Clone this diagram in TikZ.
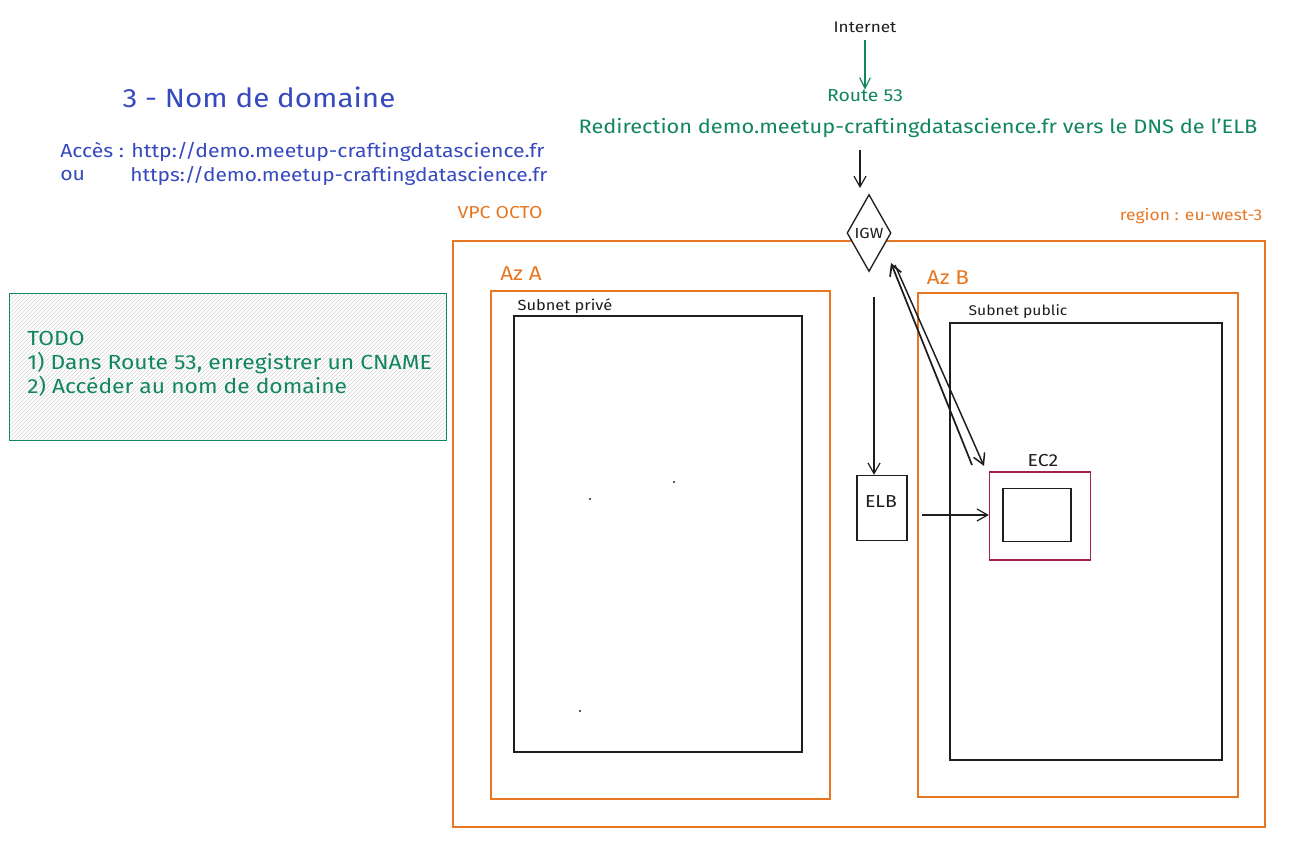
\documentclass[tikz,border=0pt]{standalone}
\usepackage{fontspec}
\setmainfont[FakeStretch=1.12]{Fira Sans}
\usetikzlibrary{shapes.geometric,patterns,arrows.meta}
\definecolor{cOrange}{RGB}{232,119,34}
\definecolor{cGreen}{RGB}{18,134,94}
\definecolor{cBlue}{RGB}{54,74,190}
\definecolor{cMag}{RGB}{166,30,77}
\definecolor{cInk}{RGB}{30,30,30}
\newcommand{\fs}[1]{\fontsize{#1}{#1}\selectfont}
\tikzset{
  orangebox/.style={draw=cOrange, line width=1.2pt},
  inkbox/.style={draw=cInk, line width=1pt},
  ink/.style={text=cInk, inner sep=0pt},
  otext/.style={text=cOrange, inner sep=0pt},
  gtext/.style={text=cGreen, inner sep=0pt},
  btext/.style={text=cBlue, inner sep=0pt},
  arr/.style={draw=cInk, line width=0.9pt, -{Straight Barb[length=8pt,width=9pt]}},
  garr/.style={draw=cGreen, line width=0.9pt, -{Straight Barb[length=8pt,width=8pt]}},
}
\begin{document}
\begin{tikzpicture}[x=0.75pt,y=-0.75pt]
\path[use as bounding box, fill=white] (0,0) rectangle (1301,863);

% Title and access
\node[btext] (title) at (259,97) {\fs{19.8}3 - Nom de domaine};
\node[btext, anchor=west] (acc1) at (60,152) {\fs{14.2}Accès : http://demo.meetup-craftingdatascience.fr};
\node[btext, anchor=west] (acc2a) at (60,176) {\fs{14.2}ou};
\node[btext, anchor=west] (acc2) at (130,176) {\fs{14}https://demo.meetup-craftingdatascience.fr};

% TODO box
\node[draw=cGreen, line width=1pt, pattern=north east lines, pattern color=black!16, minimum width=437*0.75pt, minimum height=147*0.75pt, anchor=north west, inner sep=0pt] (todo) at (9,293) {};
\node[gtext, anchor=west, align=left, font=\fontsize{15.3}{18}\selectfont] (todotxt) at (27,364) {TODO\\1) Dans Route 53, enregistrer un CNAME\\2) Accéder au nom de domaine};

% Top flow
\node[ink] (internet) at (865,27) {\fs{11.5}Internet};
\node[gtext] (r53) at (865,96) {\fs{13}Route 53};
\node[gtext] (redir) at (918,128) {\fs{14.6}Redirection demo.meetup-craftingdatascience.fr vers le DNS de l'ELB};
\draw[garr] (865,40) -- (r53.north);
\coordinate (rb) at (860,150);

% VPC
\draw[orangebox] (453,241) rectangle (1265,827);
\node[otext] (vpc) at (500,213) {\fs{13}VPC OCTO};
\node[otext] (region) at (1191,216) {\fs{11.7}region : eu-west-3};

% IGW diamond
\node[draw=cInk, line width=1pt, fill=white, diamond, aspect=0.57, minimum width=44*0.75pt, minimum height=77*0.75pt, inner sep=0pt] (igw) at (869,233) {};
\node[ink] at (869,233) {\fs{11}IGW};
\draw[arr] (rb) -- (860,188);

% Az A
\node[otext] (aza) at (521,274) {\fs{15}Az A};
\draw[orangebox] (491,291) rectangle (830,799);
\node[ink] (subpriv) at (565,306) {\fs{11}Subnet privé};
\draw[inkbox] (514,316) rectangle (802,752);
\fill[cInk] (590,499) circle (1.2);
\fill[cInk] (674,482) circle (1.2);
\fill[cInk] (580,711) circle (1.2);

% Az B
\node[otext] (azb) at (948,278) {\fs{15}Az B};
\draw[orangebox] (918,293) rectangle (1238,797);
\node[ink] (subpub) at (1018,312) {\fs{10.5}Subnet public};
\draw[inkbox] (950,323) rectangle (1222,760);

% ELB
\node[inkbox, minimum width=50*0.75pt, minimum height=65*0.75pt, inner sep=0pt] (elb) at (882,508) {};
\node[ink] at (881,502) {\fs{13}ELB};

% EC2
\node[ink] (ec2lbl) at (1043,461) {\fs{13}EC2};
\node[draw=cMag, line width=1pt, minimum width=101*0.75pt, minimum height=88*0.75pt, inner sep=0pt] (ec2) at (1040,516) {};
\node[inkbox, minimum width=68*0.75pt, minimum height=53*0.75pt, inner sep=0pt] (ec2in) at (1037,515) {};

% Connectors
\coordinate (igwout) at (874,297);
\draw[arr] (igwout) -- (elb.north -| igwout);
\coordinate (elbout) at (922,515);
\draw[arr] (elbout) -- (ec2.west |- elbout);
\coordinate (ec2a) at (972,465);
\coordinate (ec2b) at (984,466);
\draw[arr, line width=1.3pt] (ec2a) -- (891,263);
\draw[arr, line width=1.1pt] (895,265) -- (ec2b);
\end{tikzpicture}
\end{document}
